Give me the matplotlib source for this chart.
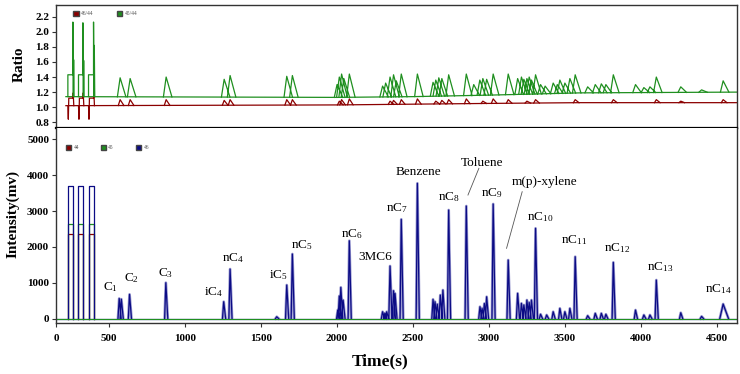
import numpy as np
import matplotlib.pyplot as plt
from matplotlib.patches import Patch

plt.rcParams['font.family'] = ['Liberation Serif', 'DejaVu Serif']
plt.rcParams['mathtext.fontset'] = 'custom'
plt.rcParams['mathtext.rm'] = 'Liberation Serif'
plt.rcParams['mathtext.it'] = 'Liberation Serif:italic'

RED = '#8b0000'
GREEN = '#1f8f1f'
BLUE = '#0b0b85'

XMIN, XMAX = 150, 4632

# calibration gas pulses at the start of the run (s)
pulse_start = [228, 298, 364]
pulse_end = [261, 327, 397]
pulse_44, pulse_45, pulse_46 = 2350, 2630, 3700
ratio_pulse_45 = 1.43
ratio_spike_45 = [2.13, 2.12, 2.13]
ratio_spike2_45 = [1.63, 1.62, 1.82]
ratio_pulse_44 = 1.12
ratio_dip_44 = [0.84, 0.84, 0.84]
ratio_spike_44 = [1.19, 1.19, 1.20]

# m/z 46 chromatogram peaks: time (s), height (mv), width (s)
peak46_t = [566, 580, 634, 873, 1254, 1296, 1603, 1669, 1706,
            2005, 2015, 2025, 2040, 2081, 2300, 2315, 2327, 2349, 2372, 2382,
            2423, 2529, 2632, 2645, 2660, 2680, 2697, 2735, 2851,
            2941, 2955, 2970, 2985, 3028, 3127, 3189, 3214, 3230, 3250, 3265,
            3280, 3307, 3340, 3380, 3423, 3467, 3500, 3533, 3568, 3650, 3700,
            3740, 3770, 3819, 3965, 4020, 4060, 4102, 4263, 4400, 4542]
peak46_h = [560, 540, 675, 1000, 470, 1380, 50, 935, 1800,
            240, 630, 870, 515, 2170, 190, 150, 190, 1465, 776, 700,
            2767, 3772, 535, 470, 400, 655, 795, 3027, 3138,
            330, 280, 420, 608, 3195, 1632, 703, 424, 380, 516, 450,
            516, 2517, 120, 100, 190, 284, 190, 284, 1725, 80, 145,
            145, 120, 1567, 237, 100, 100, 1074, 162, 60, 405]
peak46_w = [8] * 60 + [22]

# ratio traces: baseline knots and peak tops
base45_t = [215, 2000, 2500, 3000, 3600, 4632]
base45_v = [1.14, 1.13, 1.14, 1.16, 1.19, 1.20]
base44_t = [215, 2000, 2500, 3000, 3600, 4632]
base44_v = [1.02, 1.03, 1.04, 1.05, 1.06, 1.06]

ratio45_t = [572, 638, 875, 1257, 1296, 1669, 1706, 2000, 2015, 2030, 2045,
             2081, 2300, 2320, 2349, 2372, 2390, 2423, 2529, 2632, 2650, 2670,
             2690, 2735, 2851, 2900, 2940, 2960, 2985, 3028, 3127, 3189, 3214,
             3230, 3250, 3265, 3280, 3307, 3340, 3370, 3423, 3450, 3467, 3500,
             3533, 3568, 3650, 3700, 3740, 3770, 3819, 3965, 4020, 4060, 4102,
             4263, 4400, 4542]
ratio45_v = [1.39, 1.38, 1.40, 1.37, 1.42, 1.41, 1.42, 1.30, 1.40, 1.44, 1.38,
             1.44, 1.28, 1.32, 1.40, 1.43, 1.35, 1.44, 1.44, 1.33, 1.36, 1.39,
             1.38, 1.43, 1.44, 1.30, 1.36, 1.38, 1.37, 1.44, 1.44, 1.38, 1.40,
             1.37, 1.38, 1.40, 1.36, 1.43, 1.30, 1.28, 1.32, 1.30, 1.36, 1.32,
             1.38, 1.43, 1.27, 1.30, 1.31, 1.30, 1.43, 1.30, 1.26, 1.27, 1.40,
             1.27, 1.23, 1.35]

ratio44_t = [572, 638, 875, 1257, 1296, 1669, 1706, 2015, 2030, 2081, 2349,
             2372, 2423, 2529, 2650, 2690, 2735, 2851, 2960, 3028, 3127, 3250,
             3307, 3568, 3819, 4102, 4263, 4542]
ratio44_v = [1.10, 1.10, 1.10, 1.09, 1.10, 1.10, 1.10, 1.08, 1.10, 1.11, 1.08,
             1.09, 1.10, 1.11, 1.08, 1.09, 1.10, 1.11, 1.08, 1.11, 1.10, 1.08,
             1.10, 1.10, 1.10, 1.10, 1.08, 1.10]

peak_names = [r'C$_1$', r'C$_2$', r'C$_3$', r'iC$_4$', r'nC$_4$', r'iC$_5$',
              r'nC$_5$', r'nC$_6$', '3MC6', r'nC$_7$', 'Benzene', r'nC$_8$',
              'Toluene', r'nC$_9$', 'm(p)-xylene', r'nC$_{10}$', r'nC$_{11}$',
              r'nC$_{12}$', r'nC$_{13}$', r'nC$_{14}$']
name_x = [507, 649, 873, 1186, 1316, 1612, 1768, 2097, 2250, 2393, 2539,
          2737, 2954, 3020, 3368, 3336, 3561, 3847, 4125, 4508]
name_y = [887, 1122, 1261, 748, 1688, 1214, 2051, 2358, 1724, 3075, 4096,
          3398, 4338, 3501, 3817, 2832, 2190, 1959, 1445, 815]


def peak_lines(ax, t, top, base, wl, wr, **kw):
    xs, ys = [], []
    for ti, hi, bi, l, r in zip(t, top, base, wl, wr):
        xs += [ti - l, ti, ti + r, np.nan]
        ys += [bi, hi, bi, np.nan]
    ax.plot(xs, ys, **kw)


fig = plt.figure(figsize=(7.4, 3.74), dpi=100)
ax1 = fig.add_axes([0.0757, 0.657, 0.92, 0.3304])
ax2 = fig.add_axes([0.0757, 0.137, 0.92, 0.52])

# ---- top: isotope ratios ----
ax1.plot(base44_t, base44_v, color=RED, lw=0.9)
ax1.plot(base45_t, base45_v, color=GREEN, lw=0.9)
b44 = np.interp(ratio44_t, base44_t, base44_v)
b45 = np.interp(ratio45_t, base45_t, base45_v)
n44, n45 = len(ratio44_t), len(ratio45_t)
peak_lines(ax1, ratio44_t, ratio44_v, b44, [12] * n44, [25] * n44, color=RED, lw=0.9)
peak_lines(ax1, ratio45_t, ratio45_v, b45, [18] * n45, [38] * n45, color=GREEN, lw=0.9)
for i, (s, e) in enumerate(zip(pulse_start, pulse_end)):
    ax1.plot([s, s + 3, s + 6, e, e + 2, e + 6],
             [1.02, ratio_dip_44[i], ratio_pulse_44, ratio_pulse_44, ratio_spike_44[i], 1.02],
             color=RED, lw=0.9)
    ax1.plot([s, s, e, e, e + 3, e + 5, e + 8],
             [1.14, ratio_pulse_45, ratio_pulse_45, ratio_spike_45[i], 1.14, ratio_spike2_45[i], 1.14],
             color=GREEN, lw=0.9)

ax1.set_xlim(XMIN, XMAX)
ax1.set_ylim(0.72, 2.36)
ax1.set_xticks([])
ax1.set_yticks(np.arange(0.8, 2.21, 0.2))
ax1.set_yticklabels([f'{v:.1f}' for v in np.arange(0.8, 2.21, 0.2)])
ax1.set_ylabel('Ratio', fontsize=11, fontweight='bold')
ax1.yaxis.set_label_coords(-0.044, 0.516)
ax1.legend(handles=[Patch(facecolor=RED, edgecolor='#444'), Patch(facecolor=GREEN, edgecolor='#444')],
           labels=['46/44', '45/44'], ncol=2, fontsize=4, frameon=False,
           handlelength=1, handleheight=1, handletextpad=0.4, columnspacing=4.2,
           loc='upper left', bbox_to_anchor=(0.021, 0.975), borderpad=0, labelcolor='#555')

# ---- bottom: intensities ----
ax2.plot([XMIN, XMAX], [0, 0], color=BLUE, lw=0.9)
for s, e in zip(pulse_start, pulse_end):
    ax2.plot([s, s, e, e], [0, pulse_44, pulse_44, 0], color=RED, lw=0.9)
    ax2.plot([s, s, e, e], [0, pulse_45, pulse_45, 0], color=GREEN, lw=0.9)
    ax2.plot([s, s, e, e], [0, pulse_46, pulse_46, 0], color=BLUE, lw=0.9)
n46 = len(peak46_t)
wr46 = [w * 1.6 for w in peak46_w]
peak_lines(ax2, peak46_t, peak46_h, [0] * n46, peak46_w, wr46,
           color='#9a9ad0', lw=2.0)
peak_lines(ax2, peak46_t, peak46_h, [0] * n46, peak46_w, wr46,
           color=BLUE, lw=0.9)
ax2.plot([XMIN, XMAX], [0, 0], color=GREEN, lw=0.8)

for name, x, y in zip(peak_names, name_x, name_y):
    ax2.text(x, y, name, ha='center', va='center', fontsize=9.5)
ax2.plot([2934, 2862], [4191, 3445], color='#555', lw=0.6)
ax2.plot([3219, 3116], [3538, 1959], color='#555', lw=0.6)

ax2.set_xlim(XMIN, XMAX)
ax2.set_ylim(-117, 5307)
ax2.set_xticks([XMIN] + list(range(500, 4501, 500)))
ax2.set_xticklabels(['0'] + [str(v) for v in range(500, 4501, 500)])
ax2.set_yticks(range(0, 5001, 1000))
ax2.set_xlabel('Time(s)', fontsize=12.5, fontweight='bold')
ax2.xaxis.set_label_coords(0.476, -0.16)
ax2.set_ylabel('Intensity(mv)', fontsize=11, fontweight='bold')
ax2.yaxis.set_label_coords(-0.053, 0.559)
ax2.legend(handles=[Patch(facecolor=c, edgecolor='#444') for c in (RED, GREEN, BLUE)],
           labels=['44', '45', '46'], ncol=3, fontsize=4, frameon=False,
           handlelength=1, handleheight=1, handletextpad=0.4, columnspacing=3.9,
           loc='upper left', bbox_to_anchor=(0.01, 0.93), borderpad=0, labelcolor='#555')
ax2.spines['top'].set_visible(False)

for ax in (ax1, ax2):
    for sp in ax.spines.values():
        sp.set_color('#333')
        sp.set_linewidth(1.0)
    ax.tick_params(labelsize=8, length=3, width=0.8, color='#333', pad=2)
    for lab in ax.get_xticklabels() + ax.get_yticklabels():
        lab.set_fontweight('bold')
ax2.tick_params(axis='x', pad=5)
ax1.spines['bottom'].set_linewidth(1.6)
ax1.spines['bottom'].set_color('black')

fig.savefig('out.png', dpi=100)
